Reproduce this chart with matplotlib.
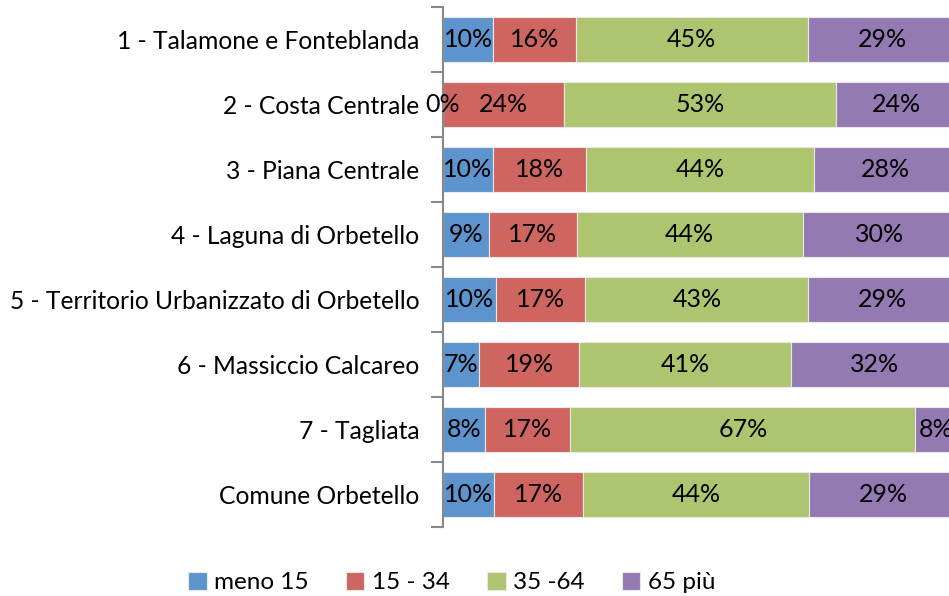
import matplotlib.pyplot as plt
import numpy as np

plt.rcParams['font.family'] = ['Lato', 'DejaVu Sans']

zones = ['1 - Talamone e Fonteblanda', '2 - Costa Centrale', '3 - Piana Centrale',
         '4 - Laguna di Orbetello', '5 - Territorio Urbanizzato di Orbetello',
         '6 - Massiccio Calcareo', '7 - Tagliata', 'Comune Orbetello']
age_groups = ['meno 15', '15 - 34', '35 -64', '65 più']

# shares in %
meno15 = [9.8, 0.0, 9.7, 9.0, 10.3, 7.1, 8.2, 10.0]
da15_34 = [16.0, 23.6, 18.1, 17.0, 17.4, 19.3, 16.6, 17.3]
da35_64 = [45.2, 52.8, 44.4, 44.0, 43.4, 41.4, 67.1, 43.9]
over65 = [29.0, 23.6, 27.8, 30.0, 28.9, 32.2, 8.1, 28.8]

colors = ['#5E94CD', '#CF6560', '#ADC56E', '#937AB2']

fig = plt.figure(figsize=(9.49, 5.96), dpi=100)
ax = fig.add_axes([0.4668, 0.1158, 0.5416, 0.8724])

y = np.arange(len(zones))
left = np.zeros(len(zones))
for name, vals, c in zip(age_groups, [meno15, da15_34, da35_64, over65], colors):
    vals = np.array(vals, dtype=float)
    ax.barh(y, vals, left=left, height=0.68, color=c, edgecolor='#e8e8e8',
            linewidth=0.8, label=name)
    for yi, l, v in zip(y, left, vals):
        ax.text(l + v / 2, yi, f'{v:.0f}%', ha='center', va='center',
                fontsize=18, color='black')
    left += vals

ax.set_xlim(0, 100)
ax.set_ylim(len(zones) - 0.5, -0.5)
ax.set_yticks(y)
ax.set_yticklabels(zones, fontsize=17.7)
ax.set_yticks(np.arange(-0.5, len(zones)), minor=True)
ax.tick_params(axis='y', which='major', length=0, pad=17)
ax.tick_params(axis='y', which='minor', length=9, width=1.5, color='#888888')
ax.set_xticks([])
for s in ['top', 'right', 'bottom']:
    ax.spines[s].set_visible(False)
ax.spines['left'].set_color('#888888')
ax.spines['left'].set_linewidth(1.5)

fig.legend(loc='lower center', bbox_to_anchor=(0.476, -0.032), ncol=4, frameon=False,
           fontsize=17.5, handlelength=0.75, handleheight=0.75, handletextpad=0.3,
           columnspacing=1.55)

fig.savefig('out.png', dpi=100)
